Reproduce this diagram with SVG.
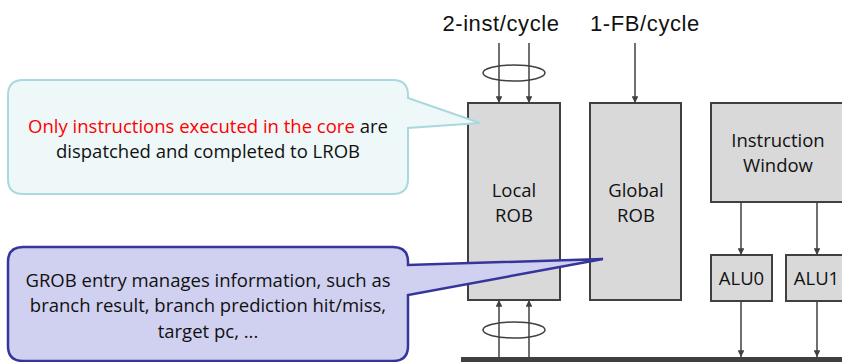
<svg xmlns="http://www.w3.org/2000/svg" width="842" height="362" viewBox="0 0 842 362">
<defs>
<marker id="ah" viewBox="0 0 10 10" refX="10" refY="5" markerWidth="4.5" markerHeight="4.5" orient="auto" markerUnits="strokeWidth">
<path d="M0,0 L10,5 L0,10 Z" fill="#404040"/>
</marker>
<style>
.box{fill:#d9d9d9;stroke:#404040;stroke-width:2}
.t{font-family:"Open Sans","Liberation Sans",sans-serif;font-size:18.5px;fill:#111;text-anchor:middle}
.h{font-family:"Liberation Sans",sans-serif;font-size:22px;letter-spacing:0.6px;fill:#111;text-anchor:middle}
.c{stroke:#404040;stroke-width:1.5;fill:none}
.a{marker-end:url(#ah)}
</style>
</defs>
<rect width="842" height="362" fill="#fff"/>
<text class="h" x="501" y="31">2-inst/cycle</text>
<text class="h" x="645" y="31">1-FB/cycle</text>
<g id="lrob"><rect class="box" x="468" y="103" width="92" height="197"/><text class="t" x="514" y="197">Local</text><text class="t" x="514" y="222">ROB</text></g>
<g id="grob"><rect class="box" x="590" y="103" width="91" height="197"/><text class="t" x="636" y="197">Global</text><text class="t" x="636" y="222">ROB</text></g>
<g id="iw"><rect class="box" x="711" y="103" width="150" height="99"/><text class="t" x="778" y="147">Instruction</text><text class="t" x="778" y="172">Window</text></g>
<g id="alu0"><rect class="box" x="711" y="255" width="61" height="46"/><text class="t" x="741.5" y="285">ALU0</text></g>
<g id="alu1"><rect class="box" x="786" y="255" width="61" height="46"/><text class="t" x="816.5" y="285">ALU1</text></g>
<g id="bus"><rect x="461" y="357" width="381" height="5" fill="#404040"/></g>
<g id="connectors">
<path class="c a" d="M499,43 V103"/>
<path class="c a" d="M529,43 V103"/>
<path class="c a" d="M635,43 V103"/>
<ellipse class="c" cx="514" cy="73" rx="31" ry="8" stroke="#111"/>
<path class="c a" d="M741,202 V255"/>
<path class="c a" d="M817,202 V255"/>
<path class="c a" d="M741,301 V357"/>
<path class="c a" d="M817,301 V357"/>
<path class="c a" d="M499,357 V300"/>
<path class="c a" d="M529,357 V300"/>
<ellipse class="c" cx="514" cy="330" rx="31" ry="8" stroke="#111"/>
</g>
<g id="callout1">
<path d="M23,80 H393 Q408,80 408,95 V98 L480,123 L408,128 V179 Q408,194 393,194 H23 Q8,194 8,179 V95 Q8,80 23,80 Z" fill="#eef8f8" stroke="#a9d9df" stroke-width="2"/>
<text class="t" x="208" y="133"><tspan fill="#ff0000">Only instructions executed in the core</tspan> are</text>
<text class="t" x="208" y="158">dispatched and completed to LROB</text>
</g>
<g id="callout2">
<path d="M23,247 H393 Q408,247 408,262 V265 L603,259 L408,295 V346 Q408,361 393,361 H23 Q8,361 8,346 V262 Q8,247 23,247 Z" fill="#d0d0f0" stroke="#35359a" stroke-width="2.5"/>
<text class="t" x="208" y="287">GROB entry manages information, such as</text>
<text class="t" x="208" y="312">branch result, branch prediction hit/miss,</text>
<text class="t" x="208" y="338">target pc, ...</text>
</g>
</svg>
